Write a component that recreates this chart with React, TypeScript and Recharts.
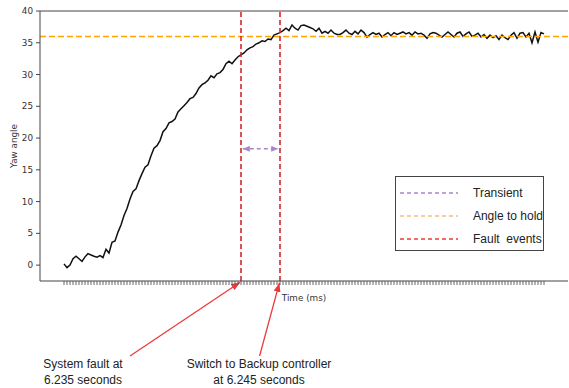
import { Legend, Line, LineChart, ReferenceLine, XAxis, YAxis } from 'recharts'

// yaw angle, one sample per time step
const yawAngle = [
  0.2, -0.4, 0.0, 1.0, 1.4, 1.0, 0.6, 1.3, 1.8, 1.6,
  1.4, 1.25, 1.5, 1.2, 2.5, 1.9, 3.6, 3.8, 5.2, 6.3,
  7.8, 8.9, 10.4, 11.6, 12.0, 13.3, 14.4, 15.4, 15.8, 17.2,
  18.4, 18.8, 19.6, 21.0, 21.5, 22.4, 22.6, 23.0, 24.1, 24.6,
  25.1, 25.6, 26.2, 26.4, 27.0, 27.9, 28.4, 28.7, 29.1, 29.8,
  29.5, 30.1, 30.3, 30.8, 31.7, 32.1, 31.7, 32.3, 32.8, 33.1,
  33.4, 33.9, 34.2, 34.4, 34.8, 35.0, 35.3, 35.2, 35.6, 35.5,
  36.2, 36.4, 36.6, 36.9, 37.3, 36.9, 37.8, 37.3, 37.0, 37.7,
  37.8, 37.6, 37.4, 37.2, 36.8, 37.3, 36.5, 36.8, 36.5, 37.0,
  36.5, 36.3, 36.3, 36.6, 37.0, 36.5, 36.3, 36.8, 36.4, 37.0,
  36.6, 35.9, 36.3, 36.6, 36.3, 36.5, 35.9, 36.3, 36.6, 36.1,
  36.6, 36.3, 36.5, 36.7, 36.4, 36.6, 36.2, 36.7, 36.4, 36.5,
  36.2, 35.7, 36.4, 36.6, 36.5, 36.2, 35.9, 36.3, 36.7, 36.3,
  35.9, 36.5, 36.7, 36.0, 36.4, 36.7, 36.0, 36.2, 36.5, 35.9,
  36.3, 35.7, 36.2, 35.8, 36.1, 35.5, 36.2, 35.8, 35.5, 36.2,
  36.6, 35.7, 36.5, 36.6, 35.9, 36.5, 35.0, 36.7, 35.1, 36.6,
  36.4,
]

const yTicks = [0, 5, 10, 15, 20, 25, 30, 35, 40]
const holdAngle = 36
const faultEvents = [59, 72] // sample index of fault / switch-over
const transientLevel = 18.3

const legendItems = [
  { label: 'Transient', color: '#a688c9' },
  { label: 'Angle to hold', color: '#f5bf82' },
  { label: 'Fault  events', color: '#ec3a3a' },
]

// annotation arrows, in data units (start near the text, end on the fault line)
const arrows = [
  { from: { x: 22, y: -14.3 }, to: { x: 58.7, y: -2.7 } },
  { from: { x: 65.2, y: -14.3 }, to: { x: 71.8, y: -2.8 } },
]

const data = yawAngle.map((v, i) => ({ t: i, yaw: v }))
const xTicks = data.map((d) => d.t)

const axisFont = '"DejaVu Sans", sans-serif'
const noteFont = '"Liberation Sans", Arial, sans-serif'

const arrowShape = (marker: string, both = false) => (p: any) => (
  <line
    x1={p.x1}
    y1={p.y1}
    x2={p.x2}
    y2={p.y2}
    stroke={p.stroke}
    strokeWidth={p.strokeWidth}
    strokeDasharray={p.strokeDasharray}
    markerEnd={`url(#${marker})`}
    markerStart={both ? `url(#${marker})` : undefined}
  />
)

const YLabel = ({ viewBox }: any) => {
  const cy = viewBox.y + viewBox.height / 2
  return (
    <text
      x={14}
      y={cy}
      transform={`rotate(-90 14 ${cy})`}
      textAnchor="middle"
      dominantBaseline="central"
      fontSize={8.8}
      fill="#333"
    >
      Yaw angle
    </text>
  )
}

function LegendBox() {
  return (
    <div
      style={{
        width: 149,
        height: 75,
        boxSizing: 'border-box',
        border: '1px solid #444',
        background: '#fff',
        padding: '4px 0 0 4px',
      }}
    >
      {legendItems.map((item) => (
        <div key={item.label} style={{ display: 'flex', alignItems: 'center', height: 23 }}>
          <svg width={58} height={6}>
            <line x1={0} x2={58} y1={3} y2={3} stroke={item.color} strokeWidth={1.5} strokeDasharray="4 3" />
          </svg>
          <span style={{ marginLeft: 15, fontSize: 12, fontFamily: noteFont, color: '#222', whiteSpace: 'pre' }}>
            {item.label}
          </span>
        </div>
      ))}
    </div>
  )
}

export default function App() {
  return (
    <div style={{ position: 'relative', width: 569, height: 388, background: '#fff' }}>
      <style>{'body{margin:0}'}</style>
      <svg width={0} height={0} style={{ position: 'absolute' }}>
        <defs>
          <marker id="redHead" viewBox="0 0 10 10" refX="10" refY="5" markerWidth="9" markerHeight="7"
            markerUnits="userSpaceOnUse" orient="auto" preserveAspectRatio="none">
            <path d="M0,0 L10,5 L0,10 z" fill="#ec3a3a" />
          </marker>
          <marker id="purpleHead" viewBox="0 0 10 10" refX="10" refY="5" markerWidth="7" markerHeight="6"
            markerUnits="userSpaceOnUse" orient="auto-start-reverse" preserveAspectRatio="none">
            <path d="M0,0 L10,5 L0,10 z" fill="#a688c9" />
          </marker>
        </defs>
      </svg>
      <LineChart
        width={569}
        height={388}
        data={data}
        margin={{ top: 11, right: 1, left: 0, bottom: 87 }}
        style={{ fontFamily: axisFont }}
      >
        <XAxis
          dataKey="t"
          type="number"
          domain={[-8, 168]}
          ticks={xTicks}
          interval={0}
          height={20}
          allowDataOverflow
          tick={() => <g />}
          tickSize={4}
          tickLine={{ stroke: '#555', strokeWidth: 0.9 }}
          axisLine={{ stroke: '#444' }}
          label={{ value: 'Time (ms)', position: 'insideBottom', offset: 0, fontSize: 8.8, fill: '#333' }}
        />
        <YAxis
          type="number"
          domain={[-2.5, 40]}
          ticks={yTicks}
          width={40}
          allowDataOverflow
          tickSize={4}
          tickMargin={3}
          tick={{ fontSize: 8.8, fill: '#333' }}
          tickLine={{ stroke: '#444' }}
          axisLine={{ stroke: '#444' }}
          label={<YLabel />}
        />
        <ReferenceLine y={40} stroke="#444" ifOverflow="visible" />
        <Line
          type="linear"
          dataKey="yaw"
          stroke="#111"
          strokeWidth={1.5}
          dot={false}
          isAnimationActive={false}
        />
        <ReferenceLine y={holdAngle} stroke="#ffa500" strokeWidth={1.5} strokeDasharray="6 3" />
        {faultEvents.map((x) => (
          <ReferenceLine key={x} x={x} stroke="#d62728" strokeWidth={1.6} strokeDasharray="5 3" />
        ))}
        <ReferenceLine
          segment={[
            { x: faultEvents[0] + 0.6, y: transientLevel },
            { x: faultEvents[1] - 0.6, y: transientLevel },
          ]}
          stroke="#a688c9"
          strokeWidth={1.5}
          strokeDasharray="4 3"
          ifOverflow="visible"
          shape={arrowShape('purpleHead', true)}
        />
        {arrows.map((a, i) => (
          <ReferenceLine
            key={i}
            segment={[a.from, a.to]}
            stroke="#ec3a3a"
            strokeWidth={1.3}
            ifOverflow="visible"
            shape={arrowShape('redHead')}
          />
        ))}
        <Legend
          layout="horizontal"
          verticalAlign="middle"
          align="center"
          content={() => <LegendBox />}
          wrapperStyle={{ left: 395, top: 176, width: 149, height: 75 }}
        />
      </LineChart>
      <div style={{ position: 'absolute', left: 13, top: 356, width: 140, textAlign: 'center', fontFamily: noteFont, fontSize: 12, lineHeight: '16px', color: '#222' }}>
        System fault at
        <br />
        6.235 seconds
      </div>
      <div style={{ position: 'absolute', left: 164, top: 356, width: 190, textAlign: 'center', fontFamily: noteFont, fontSize: 12, lineHeight: '16px', color: '#222' }}>
        Switch to Backup controller
        <br />
        at 6.245 seconds
      </div>
    </div>
  )
}
